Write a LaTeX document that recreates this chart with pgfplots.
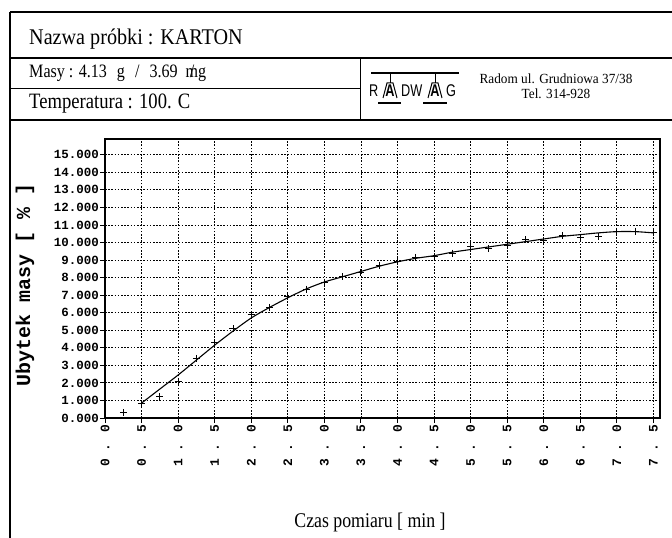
\documentclass[border=0pt]{standalone}
\usepackage{pgfplots}
\pgfplotsset{compat=1.18}
\usepackage{fontspec}
\setmainfont{Liberation Serif}
\newfontfamily\cond{Liberation Serif}[FakeStretch=0.85]
\newfontfamily\condb{Liberation Serif}[FakeStretch=0.9]
\newfontfamily\condc{Liberation Serif}[FakeStretch=0.95]
\newfontfamily\mono{Liberation Mono}
\newfontfamily\logo{Liberation Sans}[FakeStretch=0.75]
\begin{document}
\begin{tikzpicture}[x=1bp,y=1bp]
\useasboundingbox (0,0) rectangle (672,538);
% frame
\draw[line width=1.6bp] (10,526) -- (672,526);
\draw[line width=1.6bp] (10,526) -- (10,0);
\draw[line width=1.2bp] (10,480) -- (672,480);
\draw[line width=1.0bp] (10,449) -- (360,449);
\draw[line width=1.0bp] (360,480) -- (360,418);
\draw[line width=1.8bp] (10,418) -- (672,418);
% header texts
\node[anchor=west,inner sep=0] at (29,499) {\condb\fontsize{22.5}{22.5}\selectfont Nazwa pr\'obki : KARTON};
\node[anchor=west,inner sep=0] at (29,465) {\cond\fontsize{19}{19}\selectfont Masy : 4.13\hspace{6bp} g\hspace{6bp} /\hspace{6bp} 3.69\hspace{4bp} {\ooalign{m\cr\hidewidth/\hidewidth}}g};
\node[anchor=west,inner sep=0] at (29,434) {\cond\fontsize{22}{22}\selectfont Temperatura : 100. C};
% logo
\draw[line width=2.2bp] (371,465) -- (459,465);
\node[anchor=west,inner sep=0] at (369,447) {\logo\fontsize{17}{17}\selectfont R};
\node[inner sep=0] at (390,447) {\logo\bfseries\fontsize{17}{17}\selectfont A};
\draw[line width=1bp] (390,465) -- (390,455);
\draw[line width=1bp] (383,440) -- (387,455) -- (393,455) -- (397,440);
\node[anchor=west,inner sep=0] at (401,447) {\logo\fontsize{17}{17}\selectfont DW};
\node[inner sep=0] at (435,447) {\logo\bfseries\fontsize{17}{17}\selectfont A};
\draw[line width=1bp] (435,465) -- (435,455);
\draw[line width=1bp] (428,440) -- (432,455) -- (438,455) -- (442,440);
\node[anchor=west,inner sep=0] at (446,447) {\logo\fontsize{17}{17}\selectfont G};
\draw[line width=2.2bp] (378,435) -- (401,435);
\draw[line width=2.2bp] (423,435) -- (447,435);
\node[inner sep=0] at (556,459) {\condc\fontsize{14}{14}\selectfont Radom ul. Grudniowa 37/38};
\node[inner sep=0] at (556,444) {\condc\fontsize{14}{14}\selectfont Tel. 314-928};
% x axis title
\node[inner sep=0] at (370,16) {\cond\fontsize{21}{21}\selectfont Czas pomiaru [ min ]};
\begin{axis}[
  at={(105bp,120bp)}, anchor=south west,
  scale only axis, width=555bp, height=279bp,
  xmin=0, xmax=7.59, ymin=0, ymax=15.9,
  axis line style={line width=1.2bp},
  xtick={0,0.5,...,7.5},
  xticklabels={0 . 0,0 . 5,1 . 0,1 . 5,2 . 0,2 . 5,3 . 0,3 . 5,4 . 0,4 . 5,5 . 0,5 . 5,6 . 0,6 . 5,7 . 0,7 . 5},
  ytick={0,1,...,15},
  yticklabels={0.000,1.000,2.000,3.000,4.000,5.000,6.000,7.000,8.000,9.000,10.000,11.000,12.000,13.000,14.000,15.000},
  xticklabel style={rotate=90, anchor=east, font=\mono\bfseries\fontsize{13}{13}\selectfont, inner sep=2bp},
  yticklabel style={font=\mono\bfseries\fontsize{12.5}{12.5}\selectfont, inner sep=1bp},
  tick align=outside, xtick pos=bottom, ytick pos=left,
  major tick length=5bp,
  tick style={black, line width=0.9bp},
  grid=major,
  major grid style={black, line width=0.8bp, dash pattern=on 1.6bp off 1.6bp},
  ylabel={Ubytek masy [ \% ]},
  ylabel style={at={(axis description cs:-0.144,0.477)}, anchor=center, rotate=0, font=\mono\bfseries\fontsize{20}{20}\selectfont},
]
\addplot[black, line width=1.1bp, smooth] coordinates {
(0.5,0.85) (0.75,1.65) (1.0,2.45) (1.25,3.3) (1.5,4.15) (1.75,4.95) (2.0,5.7)
(2.25,6.3) (2.5,6.85) (2.75,7.35) (3.0,7.75) (3.25,8.05) (3.5,8.35) (3.75,8.65)
(4.0,8.9) (4.25,9.1) (4.5,9.25) (4.75,9.45) (5.0,9.6) (5.25,9.75) (5.5,9.9)
(5.75,10.05) (6.0,10.2) (6.25,10.35) (6.5,10.45) (6.75,10.55) (7.0,10.62)
(7.25,10.62) (7.5,10.55)};
\addplot[only marks, mark=+, mark size=3.5bp, black, line width=0.9bp] coordinates {
(0.25,0.3) (0.5,0.85) (0.75,1.2) (1.0,2.1) (1.25,3.4) (1.5,4.3) (1.75,5.1)
(2.0,5.9) (2.25,6.3) (2.5,6.9) (2.75,7.35) (3.0,7.75) (3.25,8.05) (3.5,8.3)
(3.75,8.7) (4.0,8.9) (4.25,9.15) (4.5,9.2) (4.75,9.4) (5.0,9.75) (5.25,9.65)
(5.5,9.85) (5.75,10.15) (6.0,10.1) (6.25,10.4) (6.5,10.3) (6.75,10.35)
(7.0,10.65) (7.25,10.65) (7.5,10.6)};
\end{axis}
\end{tikzpicture}
\end{document}
